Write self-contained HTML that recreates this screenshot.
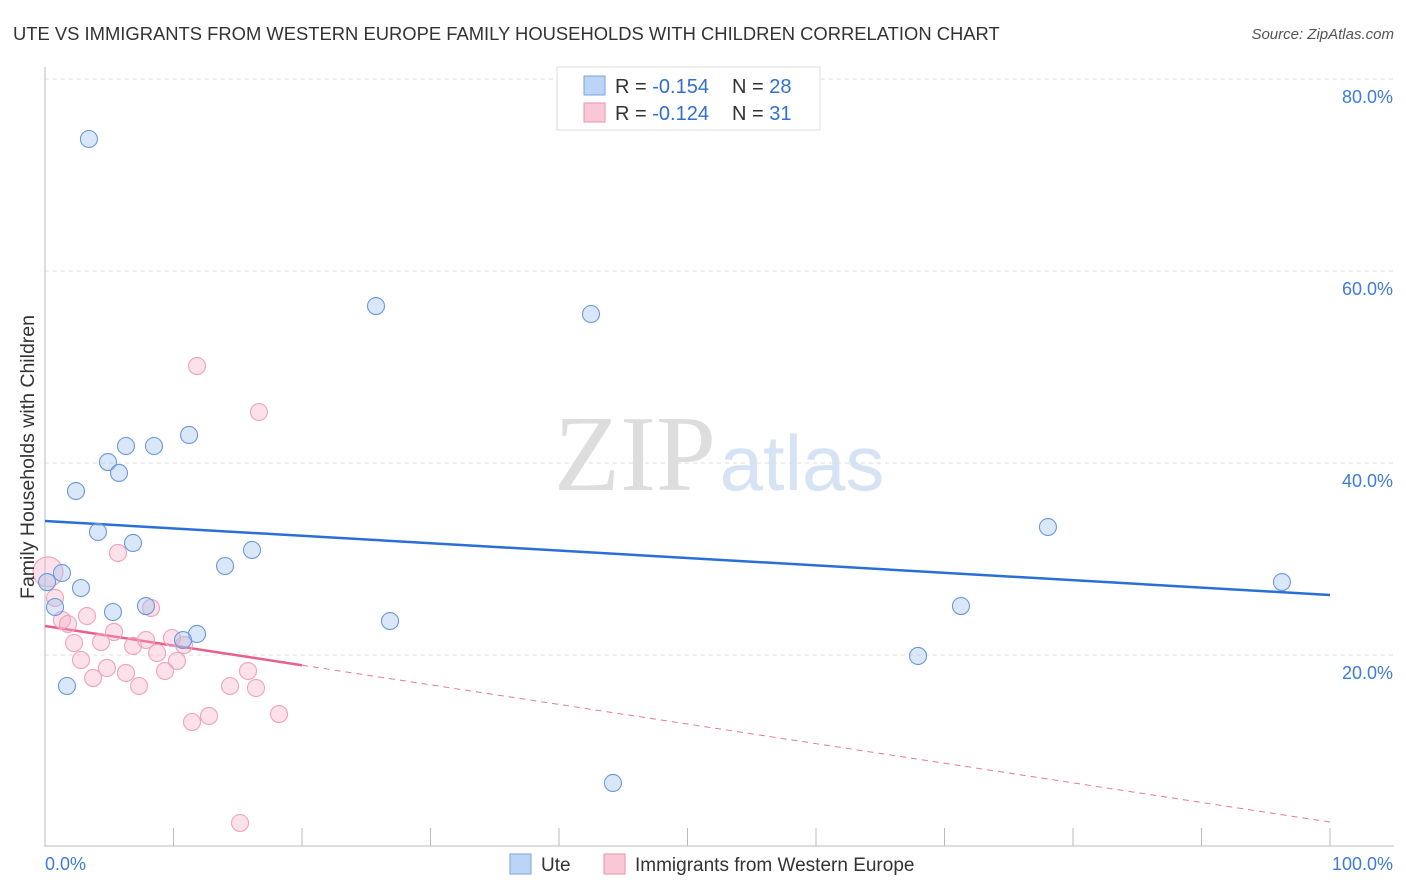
<!DOCTYPE html>
<html><head><meta charset="utf-8"><style>
body{margin:0;background:#fff;font-family:"Liberation Sans",sans-serif;}
svg{display:block}
</style></head><body>
<svg id="chart" width="1406" height="892" xmlns="http://www.w3.org/2000/svg">
<text x="13" y="40" font-size="18.4" fill="#333" font-family="Liberation Sans, sans-serif">UTE VS IMMIGRANTS FROM WESTERN EUROPE FAMILY HOUSEHOLDS WITH CHILDREN CORRELATION CHART</text>
<text x="1394" y="39" font-size="15" fill="#555" text-anchor="end" font-style="italic">Source: ZipAtlas.com</text>
<g>
<text x="635" y="490" font-size="108" fill="#ddd" font-family="Liberation Serif, serif" text-anchor="middle">ZIP</text>
<text x="802" y="490" font-size="78" fill="#d5e3f5" text-anchor="middle">atlas</text>
</g>
<g id="grid"></g>
<g id="axes"></g>
<g id="lines"></g>
<g id="points"></g>
<text transform="translate(34,457) rotate(-90)" font-size="19.5" fill="#333" text-anchor="middle">Family Households with Children</text>
<g>
<rect x="557" y="67" width="263" height="63" fill="#fff" stroke="#ddd"/>
<rect x="584" y="76" width="21" height="19" fill="#bcd4f6" stroke="#7aa3e0"/>
<rect x="584" y="103" width="21" height="19" fill="#f9c8d6" stroke="#ea93ab"/>
<text x="615" y="93" font-size="20" fill="#333">R = <tspan fill="#3070d0">-0.154</tspan></text>
<text x="732" y="93" font-size="20" fill="#333">N = <tspan fill="#3070d0">28</tspan></text>
<text x="615" y="120" font-size="20" fill="#333">R = <tspan fill="#3070d0">-0.124</tspan></text>
<text x="732" y="120" font-size="20" fill="#333">N = <tspan fill="#3070d0"> 31</tspan></text>
</g>
<g>
<rect x="510" y="854" width="21" height="20" fill="#bcd4f6" stroke="#7aa3e0"/>
<text x="541" y="871" font-size="19" fill="#333">Ute</text>
<rect x="604" y="854" width="21" height="20" fill="#f9c8d6" stroke="#ea93ab"/>
<text x="635" y="871" font-size="19" fill="#333">Immigrants from Western Europe</text>
</g>
<text x="45" y="870" font-size="18" fill="#3d7bd9">0.0%</text>
<text x="1393" y="870" font-size="18" fill="#3d7bd9" text-anchor="end">100.0%</text>
</svg>
<script>
const yTicks=[20,40,60,80];
const uteX=[3.42,25.76,42.49,6.30,8.48,11.21,4.90,5.76,2.41,4.12,6.85,16.11,14.01,1.32,0.16,2.80,7.86,5.29,0.78,26.85,11.83,10.74,1.71,44.20,67.94,71.28,78.05,96.26];
const uteY=[73.75,56.35,55.52,41.77,41.77,42.92,40.10,38.96,37.08,32.81,31.67,30.94,29.27,28.54,27.60,26.98,25.10,24.48,25.0,23.54,22.19,21.56,16.77,6.67,19.90,25.10,33.33,27.60];
const immX=[11.83,16.65,5.68,0.23,0.78,8.25,3.27,1.32,1.79,5.37,4.36,2.26,7.86,9.88,10.82,6.85,8.72,2.80,10.27,4.82,6.30,9.34,15.80,3.74,7.32,14.40,16.42,12.76,11.44,18.21,15.18];
const immY=[50.10,45.31,30.63,28.65,25.94,24.90,24.06,23.65,23.23,22.40,21.35,21.25,21.56,21.77,21.04,20.94,20.21,19.48,19.38,18.65,18.13,18.33,18.33,17.60,16.77,16.77,16.56,13.65,13.02,13.85,2.50];
const uteTrend=[33.96,26.25];
const immTrend=[23.02,2.6];
const immSolidEnd=20;
const NS='http://www.w3.org/2000/svg';
const X=v=>45+v*12.85, Y=v=>847-v*9.6;
function mk(tag,attrs,parent){const e=document.createElementNS(NS,tag);for(const k in attrs)e.setAttribute(k,attrs[k]);document.getElementById(parent).appendChild(e);return e;}
yTicks.forEach(t=>{
 const l=mk('line',{x1:45,x2:1394,y1:Y(t),y2:Y(t),stroke:'#ddd','stroke-dasharray':'4,4'},'grid');
 
 
 const tx=mk('text',{x:1393,y:Y(t)+24,'font-size':18,fill:'#3d7bd9','text-anchor':'end'},'grid');
 tx.textContent=t.toFixed(1)+'%';
 
 
});
const ax=mk('line',{x1:45,x2:45,y1:67,y2:847,stroke:'#bbb'},'axes');


const bx=mk('line',{x1:45,x2:1394,y1:846,y2:846,stroke:'#bbb'},'axes');


for(let i=0;i<=10;i++){const t=mk('line',{x1:X(i*10),x2:X(i*10),y1:828,y2:846,stroke:'#bbb'},'axes');
 
 }
const immAt=x=>immTrend[0]+(immTrend[1]-immTrend[0])*x/100;
const ut=mk('line',{x1:X(0),y1:Y(uteTrend[0]),x2:X(100),y2:Y(uteTrend[1]),stroke:'#2a6fd6','stroke-width':2.5},'lines');


const it=mk('line',{x1:X(0),y1:Y(immAt(0)),x2:X(immSolidEnd),y2:Y(immAt(immSolidEnd)),stroke:'#e8608a','stroke-width':2.5},'lines');


const id=mk('line',{x1:X(immSolidEnd),y1:Y(immAt(immSolidEnd)),x2:X(100),y2:Y(immAt(100)),stroke:'#e8789a','stroke-width':1,'stroke-dasharray':'6,5'},'lines');


immX.forEach((x,i)=>{const c=mk('circle',{cx:X(x),cy:Y(immY[i]),r:i===3?15:8.5,fill:'rgba(246,170,195,0.35)',stroke:'#eea3b9','stroke-width':1.1},'points');
 
 });
uteX.forEach((x,i)=>{const c=mk('circle',{cx:X(x),cy:Y(uteY[i]),r:8.5,fill:'rgba(160,195,240,0.4)',stroke:'#6a98dc','stroke-width':1.1},'points');
 
 });
</script>
</body></html>
